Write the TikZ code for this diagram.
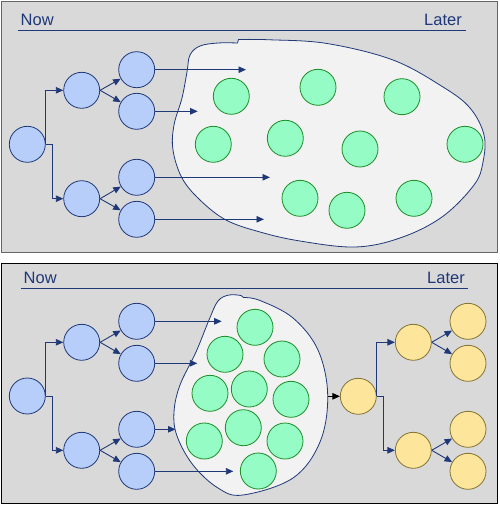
\documentclass[tikz,border=0pt]{standalone}
\usepackage{fontspec}
\setmainfont{Liberation Sans}
\usetikzlibrary{arrows.meta}
\definecolor{navy}{RGB}{31,56,120}
\definecolor{panelbg}{RGB}{217,217,217}
\definecolor{blobbg}{RGB}{242,242,242}
\definecolor{bfill}{RGB}{183,206,250}
\definecolor{gfill}{RGB}{148,252,196}
\definecolor{gline}{RGB}{30,140,40}
\definecolor{yfill}{RGB}{253,229,155}
\definecolor{yline}{RGB}{130,115,50}
\tikzset{
  panel/.style={fill=panelbg, draw=#1, line width=1.2pt},
  rule/.style={draw=navy, line width=1.3pt},
  lbl/.style={text=navy, font=\fontsize{16.5}{19}\selectfont, inner sep=0pt},
  bnode/.style={circle, minimum size=36pt, inner sep=0pt, fill=bfill, draw=navy, line width=0.8pt},
  gnode/.style={circle, minimum size=36pt, inner sep=0pt, fill=gfill, draw=gline, line width=0.8pt},
  ynode/.style={circle, minimum size=36pt, inner sep=0pt, fill=yfill, draw=yline, line width=0.8pt},
  blob/.style={fill=blobbg, draw=navy, line width=0.8pt},
  arr/.style={draw=navy, line width=0.9pt, -{Triangle[length=7.5pt,width=6.5pt]}},
  blackarr/.style={draw=black, line width=0.9pt, -{Triangle[length=7.5pt,width=6.5pt]}},
}
\begin{document}
\begin{tikzpicture}[x=1pt,y=-1pt]
\useasboundingbox (0,0) rectangle (499,505);
% panels
\path[panel=gray!80!black] (1.5,1.5) rectangle (497.5,252.5);
\path[panel=black] (1.5,263.5) rectangle (497.5,503.5);
% headers
\node[lbl, anchor=west] (now1) at (20.5,20) {Now};
\node[lbl, anchor=east] (later1) at (462,20) {Later};
\coordinate (r1a) at (17.7,30.7);
\coordinate (r1b) at (465.7,30.7);
\draw[rule] (r1a) -- (r1b);
\node[lbl, anchor=west] (now2) at (23.5,278) {Now};
\node[lbl, anchor=east] (later2) at (465,278) {Later};
\coordinate (r2a) at (20.7,288.3);
\coordinate (r2b) at (468,288.3);
\draw[rule] (r2a) -- (r2b);

% ---------- top panel ----------
\draw[blob] plot[smooth, tension=0.6] coordinates {(238.5,39.5) (270,39.8) (327,43.5) (393,60) (443,87) (470,108) (484,135) (483,162) (474,185) (442,217) (400,238) (355,247) (300,241) (260,232) (226,220) (200,200) (182,178) (173,150) (174,125) (182,98) (187,72) (190,55) (200,46) (218,43) (237.5,43)} -- cycle;

\node[bnode] (a0) at (27.3,144.3) {};
\node[bnode] (a1) at (81.7,90.3) {};
\node[bnode] (a2) at (81.7,198.7) {};
\node[bnode] (a11) at (136.7,69.7) {};
\node[bnode] (a12) at (136.7,111.3) {};
\node[bnode] (a21) at (136.7,177.3) {};
\node[bnode] (a22) at (136.7,219.3) {};

\draw[arr] (a0.east) |- (a1.west);
\draw[arr] (a0.east) -- ++(6.4,0) |- (a2.west);
\draw[arr] (a1.east) -- (a11);
\draw[arr] (a1.east) -- (a12);
\draw[arr] (a2.east) -- (a21);
\draw[arr] (a2.east) -- (a22);

\coordinate (t11) at (246,69.7);
\coordinate (t12) at (197.7,111.3);
\coordinate (t21) at (270,177.3);
\coordinate (t22) at (264,219.3);
\draw[arr] (a11.east) -- (t11);
\draw[arr] (a12.east) -- (t12);
\draw[arr] (a21.east) -- (t21);
\draw[arr] (a22.east) -- (t22);

\node[gnode] (g1) at (231.3,96.3) {};
\node[gnode] (g2) at (318,87.3) {};
\node[gnode] (g3) at (402,96.7) {};
\node[gnode] (g4) at (213.3,144.3) {};
\node[gnode] (g5) at (285.3,138.3) {};
\node[gnode] (g6) at (360,149) {};
\node[gnode] (g7) at (465,144.3) {};
\node[gnode] (g8) at (300,198.3) {};
\node[gnode] (g9) at (347,210.3) {};
\node[gnode] (g10) at (414,198.3) {};

% ---------- bottom panel ----------
\draw[blob] plot[smooth, tension=0.6] coordinates {(243.5,297.5) (260,300.5) (293,318) (318,350) (327.7,395) (320,442) (293,478) (243,495) (218,488) (193,465) (177,436) (174,412) (180,385) (196,352) (209,320) (218,301) (229,295) (241,295.5)} -- cycle;

\node[bnode] (b0) at (27.3,396) {};
\node[bnode] (b1) at (81.7,342.3) {};
\node[bnode] (b2) at (81.7,450.3) {};
\node[bnode] (b11) at (136.7,321.3) {};
\node[bnode] (b12) at (136.7,363.3) {};
\node[bnode] (b21) at (136.7,429.3) {};
\node[bnode] (b22) at (136.7,471.3) {};

\draw[arr] (b0.east) |- (b1.west);
\draw[arr] (b0.east) -- ++(6.4,0) |- (b2.west);
\draw[arr] (b1.east) -- (b11);
\draw[arr] (b1.east) -- (b12);
\draw[arr] (b2.east) -- (b21);
\draw[arr] (b2.east) -- (b22);

\coordinate (u11) at (221.7,321.3);
\coordinate (u12) at (197.3,363.3);
\coordinate (u21) at (175.5,429.3);
\coordinate (u22) at (233.3,471.3);
\draw[arr] (b11.east) -- (u11);
\draw[arr] (b12.east) -- (u12);
\draw[arr] (b21.east) -- (u21);
\draw[arr] (b22.east) -- (u22);

\node[gnode] (h1) at (255,327.3) {};
\node[gnode] (h2) at (225,354.3) {};
\node[gnode] (h3) at (282,359) {};
\node[gnode] (h4) at (210,393.3) {};
\node[gnode] (h5) at (249.3,389) {};
\node[gnode] (h6) at (291,399.3) {};
\node[gnode] (h7) at (204.3,441) {};
\node[gnode] (h8) at (243.3,427.7) {};
\node[gnode] (h9) at (285,441) {};
\node[gnode] (h10) at (258.3,471) {};

\node[ynode] (y0) at (358.3,396.3) {};
\node[ynode] (y1) at (413.3,342.3) {};
\node[ynode] (y2) at (413.3,450.3) {};
\node[ynode] (y11) at (468,321.3) {};
\node[ynode] (y12) at (468,363.3) {};
\node[ynode] (y21) at (468,429.3) {};
\node[ynode] (y22) at (468,471.3) {};

\coordinate (bout) at (327.7,396.3);
\draw[blackarr] (bout) -- (y0.west);
\draw[arr] (y0.east) |- (y1.west);
\draw[arr] (y0.east) -- ++(7,0) |- (y2.west);
\draw[arr] (y1.east) -- (y11);
\draw[arr] (y1.east) -- (y12);
\draw[arr] (y2.east) -- (y21);
\draw[arr] (y2.east) -- (y22);
\end{tikzpicture}
\end{document}
